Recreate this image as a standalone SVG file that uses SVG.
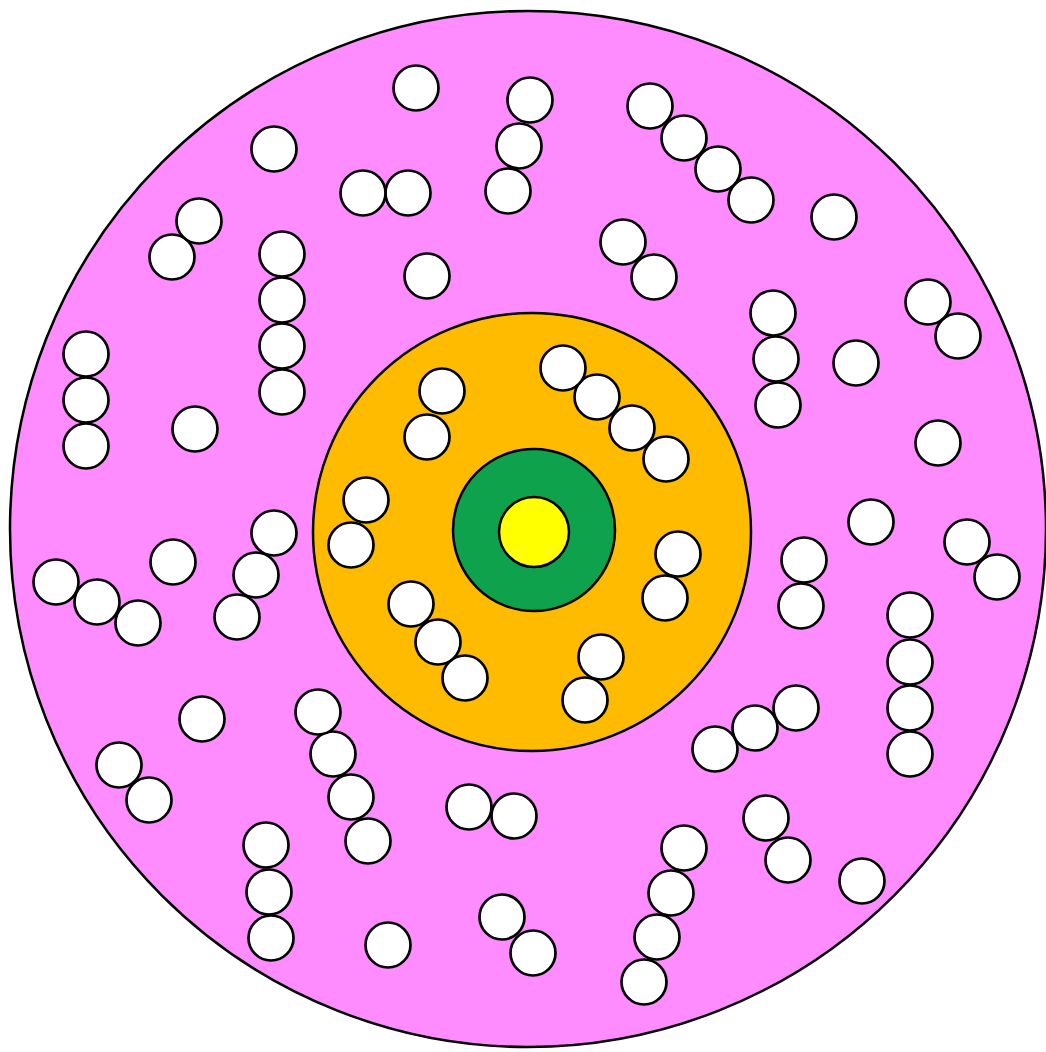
<svg xmlns="http://www.w3.org/2000/svg" width="1046" height="1052" viewBox="0 0 1046 1052">
<style>
.ring{stroke:#000;stroke-width:2.5}
.b circle{fill:#fff;stroke:#000;stroke-width:2.7}
</style>
<rect width="1046" height="1052" fill="#fff"/>
<g id="outer"><circle class="ring" cx="528" cy="529" r="518" fill="#FF8CFF"/></g>
<g id="middle"><circle class="ring" cx="532" cy="532" r="219" fill="#FFBB00"/></g>
<g id="inner"><circle class="ring" cx="534" cy="530" r="81" fill="#0EA24D"/></g>
<g id="core"><circle class="ring" cx="534" cy="532" r="35" fill="#FFFF00"/></g>
<g class="b" id="balls">
<circle cx="416" cy="88" r="22.5"/>
<circle cx="274" cy="149" r="22.5"/>
<circle cx="508" cy="191" r="22.5"/><circle cx="519" cy="146" r="22.5"/><circle cx="530" cy="100" r="22.5"/>
<circle cx="408" cy="193" r="22.5"/><circle cx="363" cy="193" r="22.5"/>
<circle cx="751" cy="200" r="22.5"/><circle cx="718" cy="169" r="22.5"/><circle cx="684" cy="138" r="22.5"/><circle cx="650" cy="106" r="22.5"/>
<circle cx="427" cy="276" r="22.5"/>
<circle cx="654" cy="277" r="22.5"/><circle cx="623" cy="242" r="22.5"/>
<circle cx="834" cy="217" r="22.5"/>
<circle cx="172" cy="257" r="22.5"/><circle cx="199" cy="221" r="22.5"/>
<circle cx="282" cy="392" r="22.5"/><circle cx="282" cy="346" r="22.5"/><circle cx="282" cy="300" r="22.5"/><circle cx="282" cy="254" r="22.5"/>
<circle cx="778" cy="405" r="22.5"/><circle cx="776" cy="359" r="22.5"/><circle cx="773" cy="313" r="22.5"/>
<circle cx="958" cy="336" r="22.5"/><circle cx="928" cy="302" r="22.5"/>
<circle cx="856" cy="363" r="22.5"/>
<circle cx="86" cy="446" r="22.5"/><circle cx="86" cy="400" r="22.5"/><circle cx="86" cy="354" r="22.5"/>
<circle cx="195" cy="429" r="22.5"/>
<circle cx="938" cy="443" r="22.5"/>
<circle cx="871" cy="522" r="22.5"/>
<circle cx="997" cy="577" r="22.5"/><circle cx="967" cy="542" r="22.5"/>
<circle cx="801" cy="606" r="22.5"/><circle cx="804" cy="560" r="22.5"/>
<circle cx="910" cy="754" r="22.5"/><circle cx="910" cy="708" r="22.5"/><circle cx="910" cy="662" r="22.5"/><circle cx="910" cy="615" r="22.5"/>
<circle cx="138" cy="623" r="22.5"/><circle cx="97" cy="602" r="22.5"/><circle cx="56" cy="582" r="22.5"/>
<circle cx="173" cy="562" r="22.5"/>
<circle cx="237" cy="617" r="22.5"/><circle cx="256" cy="575" r="22.5"/><circle cx="274" cy="533" r="22.5"/>
<circle cx="202" cy="719" r="22.5"/>
<circle cx="149" cy="800" r="22.5"/><circle cx="119" cy="765" r="22.5"/>
<circle cx="368" cy="841" r="22.5"/><circle cx="351" cy="797" r="22.5"/><circle cx="333" cy="754" r="22.5"/><circle cx="318" cy="712" r="22.5"/>
<circle cx="271" cy="938" r="22.5"/><circle cx="269" cy="892" r="22.5"/><circle cx="266" cy="845" r="22.5"/>
<circle cx="514" cy="816" r="22.5"/><circle cx="469" cy="807" r="22.5"/>
<circle cx="388" cy="945" r="22.5"/>
<circle cx="533" cy="953" r="22.5"/><circle cx="502" cy="917" r="22.5"/>
<circle cx="644" cy="982" r="22.5"/><circle cx="657" cy="937" r="22.5"/><circle cx="671" cy="893" r="22.5"/><circle cx="684" cy="848" r="22.5"/>
<circle cx="715" cy="749" r="22.5"/><circle cx="755" cy="728" r="22.5"/><circle cx="796" cy="708" r="22.5"/>
<circle cx="788" cy="860" r="22.5"/><circle cx="766" cy="818" r="22.5"/>
<circle cx="862" cy="881" r="22.5"/>
<circle cx="427" cy="437" r="22.5"/><circle cx="442" cy="391" r="22.5"/>
<circle cx="666" cy="459" r="22.5"/><circle cx="632" cy="428" r="22.5"/><circle cx="597" cy="397" r="22.5"/><circle cx="563" cy="368" r="22.5"/>
<circle cx="351" cy="545" r="22.5"/><circle cx="366" cy="500" r="22.5"/>
<circle cx="665" cy="598" r="22.5"/><circle cx="678" cy="554" r="22.5"/>
<circle cx="465" cy="678" r="22.5"/><circle cx="438" cy="642" r="22.5"/><circle cx="411" cy="604" r="22.5"/>
<circle cx="585" cy="700" r="22.5"/><circle cx="601" cy="657" r="22.5"/>
</g>
</svg>
